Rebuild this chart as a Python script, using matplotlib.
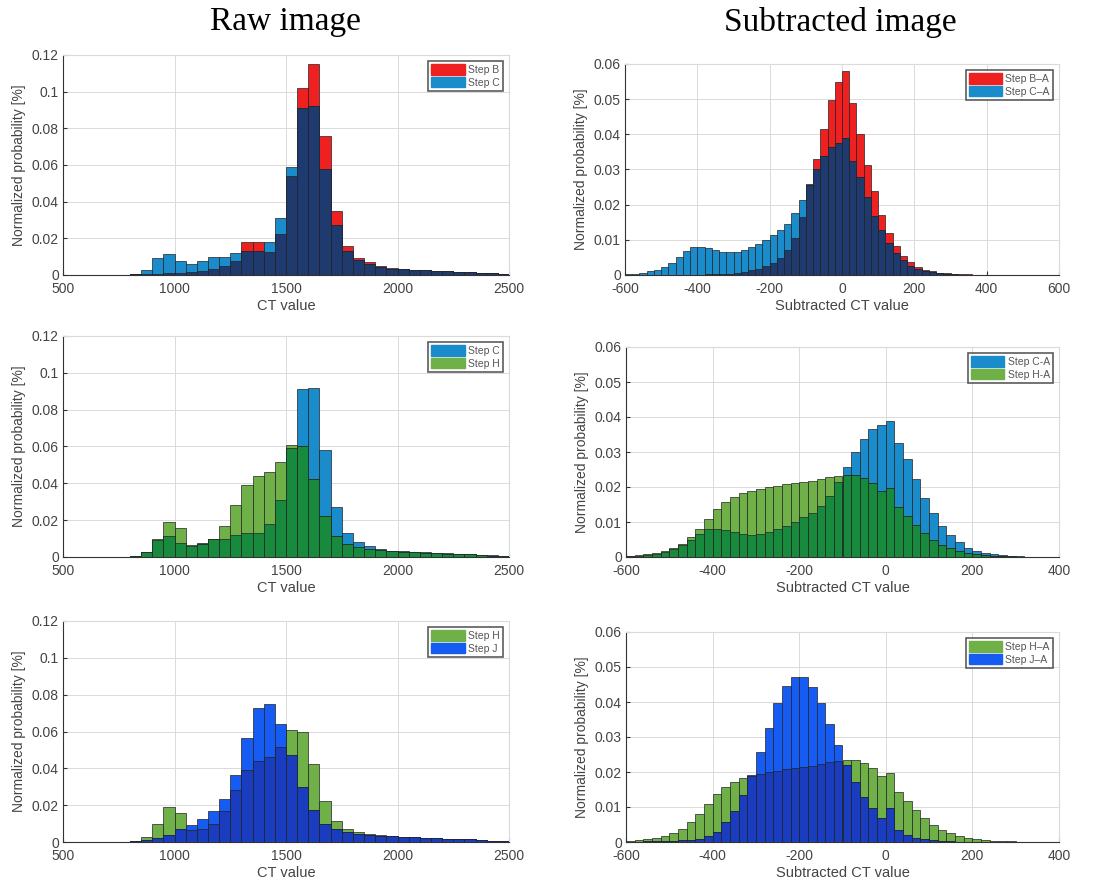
# libraries imports
import numpy as np
import matplotlib
matplotlib.use("Agg")
import matplotlib.pyplot as plt
from matplotlib.patches import Patch
from matplotlib.ticker import FuncFormatter

plt.rcParams["font.family"] = ["Liberation Sans", "DejaVu Sans"]
plt.rcParams["axes.unicode_minus"] = False

# raw CT histograms: 40 bins of width 50, left edges 500 .. 2450
raw_edges = list(range(500, 2500, 50))
step_b = [0, 0, 0, 0, 0.0001, 0.0002, 0.0003, 0.0005, 0.0008, 0.0010,
          0.0012, 0.0015, 0.0020, 0.0030, 0.0050, 0.0075, 0.0180, 0.0180, 0.0125, 0.0225,
          0.0540, 0.1020, 0.1150, 0.0760, 0.0350, 0.0160, 0.0095, 0.0070, 0.0050, 0.0038,
          0.0031, 0.0028, 0.0026, 0.0024, 0.0022, 0.0019, 0.0016, 0.0013, 0.0009, 0.0005]
step_c = [0, 0, 0, 0, 0.0001, 0.0002, 0.0006, 0.0025, 0.0090, 0.0113,
          0.0075, 0.0060, 0.0075, 0.0100, 0.0100, 0.0120, 0.0130, 0.0130, 0.0180, 0.0310,
          0.0590, 0.0910, 0.0920, 0.0580, 0.0270, 0.0130, 0.0080, 0.0060, 0.0045, 0.0035,
          0.0030, 0.0027, 0.0025, 0.0023, 0.0021, 0.0019, 0.0016, 0.0013, 0.0009, 0.0005]
step_h = [0, 0, 0, 0, 0.0001, 0.0002, 0.0005, 0.0025, 0.0100, 0.0190,
          0.0160, 0.0065, 0.0070, 0.0098, 0.0168, 0.0285, 0.0390, 0.0440, 0.0460, 0.0515,
          0.0610, 0.0600, 0.0425, 0.0225, 0.0112, 0.0070, 0.0055, 0.0045, 0.0040, 0.0032,
          0.0028, 0.0025, 0.0023, 0.0021, 0.0019, 0.0017, 0.0014, 0.0011, 0.0008, 0.0004]
step_j = [0, 0, 0, 0, 0.0001, 0.0002, 0.0004, 0.0010, 0.0020, 0.0040,
          0.0070, 0.0095, 0.0125, 0.0170, 0.0235, 0.0365, 0.0565, 0.0725, 0.0750, 0.0640,
          0.0470, 0.0300, 0.0175, 0.0100, 0.0070, 0.0055, 0.0045, 0.0040, 0.0035, 0.0030,
          0.0028, 0.0025, 0.0023, 0.0021, 0.0019, 0.0017, 0.0014, 0.0011, 0.0008, 0.0004]

# subtracted CT histograms: bins of width 20, left edges from -600
sub_edges_60 = list(range(-600, 600, 20))
sub_edges_50 = list(range(-600, 400, 20))
step_ba = [0.0001, 0.0001, 0.0001, 0.0001, 0.0001, 0.0001, 0.0001, 0.0001, 0.0001, 0.0001,
           0.0001, 0.0002, 0.0002, 0.0003, 0.0004, 0.0006, 0.0009, 0.0013, 0.0018, 0.0025,
           0.0034, 0.0048, 0.0070, 0.0105, 0.0165, 0.0258, 0.0330, 0.0414, 0.0497, 0.0550,
           0.0580, 0.0488, 0.0400, 0.0312, 0.0238, 0.0172, 0.0120, 0.0082, 0.0055, 0.0036,
           0.0023, 0.0015, 0.0010, 0.0007, 0.0005, 0.0003, 0.0002, 0.0002, 0.0001, 0.0001,
           0.0001, 0.0001, 0, 0, 0, 0, 0, 0, 0, 0]
step_ca = [0.0002, 0.0003, 0.0006, 0.0010, 0.0015, 0.0022, 0.0033, 0.0050, 0.0067, 0.0079,
           0.0080, 0.0077, 0.0071, 0.0066, 0.0064, 0.0066, 0.0072, 0.0079, 0.0088, 0.0100,
           0.0113, 0.0127, 0.0146, 0.0175, 0.0213, 0.0256, 0.0300, 0.0338, 0.0365, 0.0376,
           0.0390, 0.0325, 0.0280, 0.0222, 0.0168, 0.0127, 0.0090, 0.0062, 0.0042, 0.0027,
           0.0018, 0.0012, 0.0008, 0.0005, 0.0003, 0.0002, 0.0001, 0.0001, 0.0001, 0.0001,
           0.0001, 0.0001, 0, 0, 0, 0, 0, 0, 0, 0]
step_ha = [0.0003, 0.0005, 0.0008, 0.0012, 0.0018, 0.0025, 0.0038, 0.0057, 0.0081, 0.0110,
           0.0137, 0.0156, 0.0172, 0.0183, 0.0190, 0.0195, 0.0200, 0.0204, 0.0208, 0.0212,
           0.0215, 0.0218, 0.0222, 0.0228, 0.0232, 0.0235, 0.0233, 0.0226, 0.0212, 0.0190,
           0.0197, 0.0142, 0.0117, 0.0092, 0.0069, 0.0050, 0.0035, 0.0025, 0.0017, 0.0012,
           0.0008, 0.0005, 0.0004, 0.0003, 0.0002, 0.0001, 0.0001, 0.0001, 0, 0]
step_ja = [0.0001, 0.0001, 0.0002, 0.0002, 0.0003, 0.0004, 0.0005, 0.0007, 0.0010, 0.0018,
           0.0030, 0.0056, 0.0090, 0.0134, 0.0192, 0.0258, 0.0327, 0.0396, 0.0446, 0.0472,
           0.0472, 0.0442, 0.0396, 0.0337, 0.0277, 0.0220, 0.0172, 0.0130, 0.0098, 0.0070,
           0.0096, 0.0034, 0.0020, 0.0012, 0.0008, 0.0005, 0.0003, 0.0002, 0.0001, 0.0001,
           0.0001, 0.0001, 0, 0, 0, 0, 0, 0, 0, 0]

# colours
RED = "#ee2020"
CYAN = "#1a8ccc"
NAVY = "#1f3a6e"
LGREEN = "#70b048"
DGREEN = "#178a3e"
BLUE = "#165cf2"
DBLUE = "#1a3cbf"
EDGE = "#222222"

W, H = 1095, 886


def overlap_hist(ax, edges, a, b, col_a, col_b, col_ab, width, labels):
    """Two overlapping histograms; the shared part gets its own colour"""
    a = np.array(a)
    b = np.array(b)
    kw = dict(width=width, align="edge", edgecolor=EDGE, linewidth=0.5, zorder=2)
    ax.bar(edges, a, color=col_a, **kw)
    ax.bar(edges, b, color=col_b, **kw)
    ax.bar(edges, np.minimum(a, b), color=col_ab, **kw)
    handles = [Patch(facecolor=col_a, edgecolor=col_a), Patch(facecolor=col_b, edgecolor=col_b)]
    leg = ax.legend(handles, labels, loc="upper right", fontsize=7.5, frameon=True,
                    fancybox=False, edgecolor="#333333", borderpad=0.3, labelspacing=0.15,
                    handlelength=3.2, handleheight=1.2, handletextpad=0.3,
                    borderaxespad=0.6)
    leg.get_frame().set_linewidth(1.2)
    for t in leg.get_texts():
        t.set_color("#555555")


def style(ax, xlim, ylim, xticks, yticks, xlabel):
    ax.set_xlim(*xlim)
    ax.set_ylim(*ylim)
    ax.set_xticks(xticks)
    ax.set_yticks(yticks)
    ax.yaxis.set_major_formatter(FuncFormatter(lambda v, p: "0" if v == 0 else f"{v:g}"))
    ax.grid(True, color="#dadada", linewidth=0.7, zorder=0)
    ax.set_axisbelow(True)
    ax.tick_params(direction="in", length=3, labelsize=10, colors="#333333",
                   labelcolor="#444444")
    ax.tick_params(axis="x", pad=5)
    ax.tick_params(axis="y", pad=3)
    for s in ["left", "bottom"]:
        ax.spines[s].set_color("#333333")
    for s in ["top", "right"]:
        ax.spines[s].set_color("#dadada")
    ax.set_xlabel(xlabel, fontsize=10.5, color="#444444", labelpad=2)
    ax.set_ylabel("Normalized probability [%]", fontsize=10, color="#444444", labelpad=4)


def box(l, r, t, b):
    return [l / W, 1 - b / H, (r - l) / W, (b - t) / H]


fig = plt.figure(figsize=(W / 100, H / 100), dpi=100)

raw_xt = [500, 1000, 1500, 2000, 2500]
raw_yt = [0, 0.02, 0.04, 0.06, 0.08, 0.1, 0.12]
sub_yt = [0, 0.01, 0.02, 0.03, 0.04, 0.05, 0.06]

ax1 = fig.add_axes(box(63, 509, 55, 275))
overlap_hist(ax1, raw_edges, step_b, step_c, RED, CYAN, NAVY, 50, ["Step B", "Step C"])
style(ax1, (500, 2500), (0, 0.12), raw_xt, raw_yt, "CT value")

ax2 = fig.add_axes(box(625, 1059, 64, 275))
overlap_hist(ax2, sub_edges_60, step_ba, step_ca, RED, CYAN, NAVY, 20, ["Step B\u2013A", "Step C\u2013A"])
style(ax2, (-600, 600), (0, 0.06), list(range(-600, 601, 200)), sub_yt, "Subtracted CT value")

ax3 = fig.add_axes(box(63, 509, 336, 557))
overlap_hist(ax3, raw_edges, step_c, step_h, CYAN, LGREEN, DGREEN, 50, ["Step C", "Step H"])
style(ax3, (500, 2500), (0, 0.12), raw_xt, raw_yt, "CT value")

ax4 = fig.add_axes(box(626, 1059, 347, 557))
overlap_hist(ax4, sub_edges_60, step_ca, step_ha + [0] * 10, CYAN, LGREEN, DGREEN, 20, ["Step C-A", "Step H-A"])
style(ax4, (-600, 400), (0, 0.06), list(range(-600, 401, 200)), sub_yt, "Subtracted CT value")

ax5 = fig.add_axes(box(63, 509, 621, 842))
overlap_hist(ax5, raw_edges, step_h, step_j, LGREEN, BLUE, DBLUE, 50, ["Step H", "Step J"])
style(ax5, (500, 2500), (0, 0.12), raw_xt, raw_yt, "CT value")

ax6 = fig.add_axes(box(626, 1059, 632, 842))
overlap_hist(ax6, sub_edges_50, step_ha, step_ja, LGREEN, BLUE, DBLUE, 20, ["Step H\u2013A", "Step J\u2013A"])
style(ax6, (-600, 400), (0, 0.06), list(range(-600, 401, 200)), sub_yt, "Subtracted CT value")

fig.text(285 / W, 1 - 22 / H, "Raw image", ha="center", va="center",
         fontsize=24, family="Liberation Serif")
fig.text(840 / W, 1 - 22 / H, "Subtracted image", ha="center", va="center",
         fontsize=24, family="Liberation Serif")

fig.savefig("out.png", dpi=100)
